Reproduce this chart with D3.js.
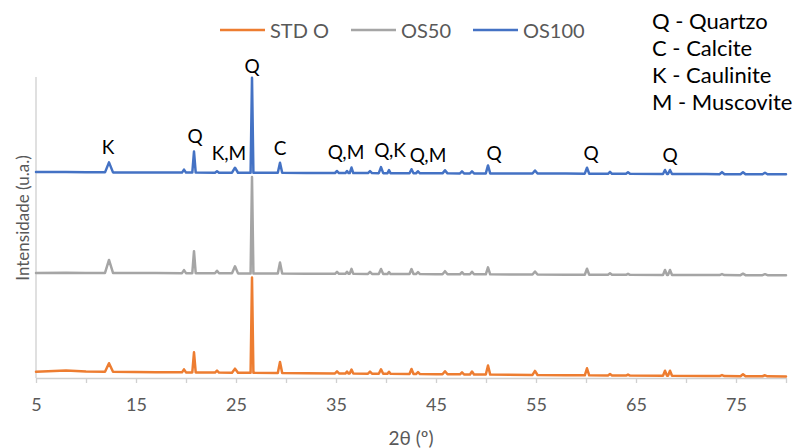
<!DOCTYPE html>
<html>
<head>
<meta charset="utf-8">
<script src="https://d3js.org/d3.v7.min.js"></script>
<style>
  body { margin: 0; background: white; }
  text { font-family: Lato, "Open Sans", sans-serif; }
</style>
</head>
<body>
<div id="chart"></div>
<script>
// series names, colours and vertical offsets (Excel stacked the patterns by adding a constant)
var seriesNames = ["STD O", "OS50", "OS100"];
var seriesColors = ["#ED7D31", "#A5A5A5", "#4472C4"];
var seriesOffsets = [0, 1000, 2000];

// peak positions (2θ) and half widths at the base, shared by all patterns
var peakPos   = [12.3, 19.8, 20.8, 23.1, 24.9, 26.6, 29.4, 35.1, 36.1, 36.55, 38.4, 39.5, 40.3, 42.55, 43.2, 45.9, 47.6, 48.6, 50.2, 54.9, 60.1, 62.4, 64.2, 67.9, 68.4, 73.6, 75.7, 77.9];
var peakHalfW = [0.4, 0.2, 0.17, 0.2, 0.3, 0.14, 0.22, 0.2, 0.15, 0.18, 0.2, 0.22, 0.15, 0.2, 0.2, 0.25, 0.2, 0.2, 0.22, 0.25, 0.22, 0.2, 0.2, 0.2, 0.2, 0.25, 0.25, 0.25];

// peak heights above background (u.a.)
var stdOPeaks  = [85, 30, 200, 20, 40, 950, 110, 20, 20, 40, 20, 45, 20, 50, 20, 30, 20, 30, 90, 40, 70, 15, 10, 50, 50, 10, 20, 10];
var os50Peaks  = [130, 30, 220, 25, 70, 960, 110, 20, 20, 50, 20, 50, 20, 50, 20, 30, 20, 25, 70, 30, 60, 15, 10, 50, 50, 10, 15, 10];
var os100Peaks = [100, 30, 210, 15, 50, 946, 100, 20, 20, 55, 20, 60, 30, 40, 20, 30, 20, 20, 80, 30, 60, 20, 15, 40, 40, 20, 20, 15];

// background levels read at a few angles
var bgPos      = [5, 8, 10, 17, 32, 45, 58, 72, 80];
var stdOBg     = [63, 75, 64, 58, 48, 38, 28, 20, 16];
var os50Bg     = [47, 50, 47, 46, 40, 35, 30, 26, 24];
var os100Bg    = [52, 54, 50, 48, 44, 40, 37, 32, 30];

// phase labels (text, 2θ, intensity)
var labelText = ["K", "Q", "K,M", "Q", "C", "Q,M", "Q,K", "Q,M", "Q", "Q", "Q"];
var labelX    = [12.2, 20.9, 24.3, 26.6, 29.4, 36.0, 40.4, 44.2, 50.8, 60.5, 68.4];
var labelY    = [2312, 2412, 2243, 3115, 2302, 2253, 2273, 2223, 2243, 2243, 2223];

var phaseKey = ["Q - Quartzo", "C - Calcite", "K - Caulinite", "M - Muscovite"];

var xTicks = d3.range(5, 81, 5);
var xLabels = [5, 15, 25, 35, 45, 55, 65, 75];

var width = 798, height = 448;
var svg = d3.select("#chart").append("svg")
  .attr("width", width)
  .attr("height", height);

var x = d3.scaleLinear().domain([5, 80]).range([36, 786]);
var y = d3.scaleLinear().domain([0, 3000]).range([378, 77]);

// axes
var axisColor = "#d0d0d0";
svg.append("line")
  .attr("x1", x(5)).attr("x2", x(5))
  .attr("y1", y(3000)).attr("y2", y(0))
  .style("stroke", axisColor).style("stroke-width", 1.3);

var xAxis = d3.axisBottom(x)
  .tickValues(xTicks)
  .tickSize(5)
  .tickSizeOuter(0)
  .tickFormat(function(d) { return xLabels.indexOf(d) >= 0 ? d : ""; });

var gx = svg.append("g")
  .attr("transform", "translate(0," + y(0) + ")")
  .call(xAxis);
gx.select(".domain").style("stroke", axisColor).style("stroke-width", 1.3);
gx.selectAll(".tick line").style("stroke", axisColor).style("stroke-width", 1.3);
gx.selectAll(".tick text")
  .attr("y", 20)
  .style("font-size", "18px")
  .style("font-family", "Lato, sans-serif")
  .style("fill", "#595959");

// axis titles
svg.append("text")
  .attr("x", x(42.5)).attr("y", 437)
  .attr("text-anchor", "middle")
  .attr("dominant-baseline", "central")
  .style("font-size", "19px")
  .style("fill", "#595959")
  .text("2θ (º)");

svg.append("text")
  .attr("transform", "translate(22,218) rotate(-90)")
  .attr("text-anchor", "middle")
  .attr("dominant-baseline", "central")
  .style("font-size", "17px")
  .style("fill", "#595959")
  .text("Intensidade (u.a.)");

// build each pattern: background knots + triangular peaks
function buildPattern(peaks, bg, offset) {
  var bgScale = d3.scaleLinear().domain(bgPos).range(bg);
  var pts = [];
  bgPos.forEach(function(p, i) { pts.push([p, bg[i] + offset]); });
  peakPos.forEach(function(p, i) {
    var w = peakHalfW[i];
    pts.push([p - w, bgScale(p - w) + offset]);
    pts.push([p, bgScale(p) + peaks[i] + offset]);
    pts.push([p + w, bgScale(p + w) + offset]);
  });
  pts.sort(function(a, b) { return a[0] - b[0]; });
  return pts;
}

var patterns = [
  buildPattern(stdOPeaks, stdOBg, seriesOffsets[0]),
  buildPattern(os50Peaks, os50Bg, seriesOffsets[1]),
  buildPattern(os100Peaks, os100Bg, seriesOffsets[2])
];

var line = d3.line()
  .x(function(d) { return x(d[0]); })
  .y(function(d) { return y(d[1]); });

patterns.forEach(function(pts, i) {
  svg.append("path")
    .datum(pts)
    .attr("d", line)
    .style("fill", "none")
    .style("stroke", seriesColors[i])
    .style("stroke-width", 2.5)
    .style("stroke-linejoin", "round")
    .style("stroke-linecap", "round");
});

// phase labels
labelText.forEach(function(t, i) {
  svg.append("text")
    .attr("x", x(labelX[i]))
    .attr("y", y(labelY[i]))
    .attr("text-anchor", "middle")
    .attr("dominant-baseline", "central")
    .style("font-size", "19px")
    .style("fill", "#000")
    .text(t);
});

// legend
var legendX = [220, 351, 473];
seriesNames.forEach(function(n, i) {
  svg.append("line")
    .attr("x1", legendX[i]).attr("x2", legendX[i] + 45)
    .attr("y1", 30).attr("y2", 30)
    .style("stroke", seriesColors[i])
    .style("stroke-width", 2.5);
  svg.append("text")
    .attr("x", legendX[i] + 50)
    .attr("y", 30)
    .attr("dominant-baseline", "central")
    .style("font-size", "20px")
    .style("fill", "#595959")
    .text(n);
});

// phase key top right
phaseKey.forEach(function(t, i) {
  svg.append("text")
    .attr("x", 652)
    .attr("y", 20 + i * 27)
    .attr("dominant-baseline", "central")
    .style("font-size", "22px")
    .style("fill", "#000")
    .text(t);
});
</script>
</body>
</html>
